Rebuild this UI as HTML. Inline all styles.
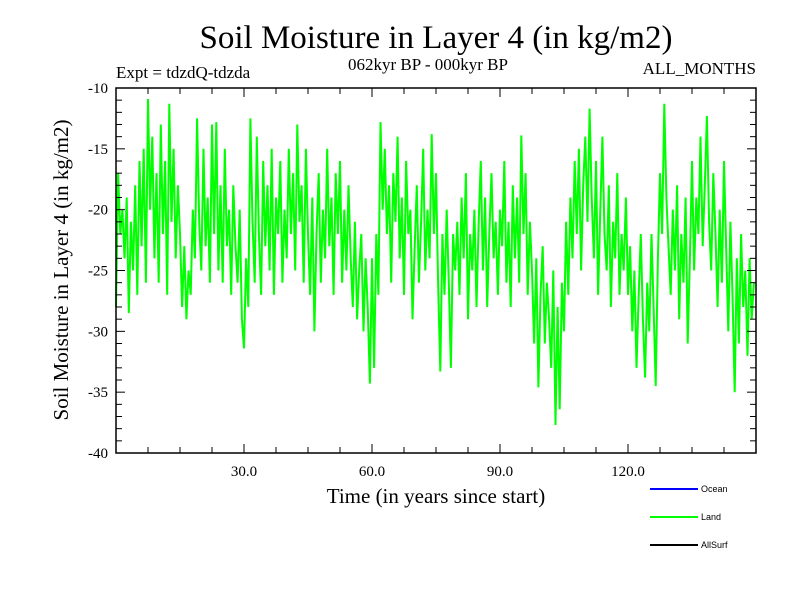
<!DOCTYPE html>
<html><head><meta charset="utf-8"><style>
body{margin:0;background:#fff}
svg text{font-family:"Liberation Serif",serif}
</style></head><body>
<svg id="chart" width="800" height="600" xmlns="http://www.w3.org/2000/svg">
<rect width="800" height="600" fill="#fff"/>
<text x="436" y="48" font-size="33" text-anchor="middle">Soil Moisture in Layer 4 (in kg/m2)</text>
<text x="116" y="78" font-size="17">Expt = tdzdQ-tdzda</text>
<text x="428" y="70" font-size="17" text-anchor="middle">062kyr BP - 000kyr BP</text>
<text x="756" y="74" font-size="17" text-anchor="end">ALL_MONTHS</text>
<g id="plot"></g>
<text x="436" y="503" font-size="21" text-anchor="middle">Time (in years since start)</text>
<text transform="translate(68,270) rotate(-90)" font-size="21" text-anchor="middle">Soil Moisture in Layer 4 (in kg/m2)</text>
<g font-family="Liberation Sans,sans-serif">
<line x1="650" y1="489" x2="698" y2="489" stroke="#0000ff" stroke-width="2"/>
<text x="701" y="492" font-size="9" style="font-family:'Liberation Sans',sans-serif">Ocean</text>
<line x1="650" y1="517" x2="698" y2="517" stroke="#00ff00" stroke-width="2"/>
<text x="701" y="520" font-size="9" style="font-family:'Liberation Sans',sans-serif">Land</text>
<line x1="650" y1="545" x2="698" y2="545" stroke="#000" stroke-width="2"/>
<text x="701" y="548" font-size="9" style="font-family:'Liberation Sans',sans-serif">AllSurf</text>
</g>
</svg>
<script>
const xTicks=[30,60,90,120];
const xTickLabels=["30.0","60.0","90.0","120.0"];
const yTicks=[-10,-15,-20,-25,-30,-35,-40];
const yTickLabels=["-10","-15","-20","-25","-30","-35","-40"];
const landValues=[
-28,-17,-22,-20,-24,-19,-28.5,-21,-25,-18,
-27,-16,-23,-15,-26,-10.9,-20,-14,-24,-17,
-26,-13,-22,-16,-27,-11.3,-21,-15,-24,-18,
-22,-28,-23,-29,-25,-27,-20,-24,-12.5,-21,
-25,-15,-23,-19,-26,-13,-22,-12.8,-25,-18,
-26,-15,-23,-20,-27,-18,-23,-26,-20,-29,
-31.4,-24,-28,-12.5,-21,-26,-14,-22,-27,-16,
-23,-18,-25,-15,-27,-19,-22,-16,-26,-20,
-24,-15,-22,-17,-25,-13,-21,-18,-26,-15,
-22,-27,-19,-30,-22,-17,-26,-20,-24,-15,
-23,-19,-27,-17,-22,-16,-26,-20,-25,-18,
-24,-28,-21,-29,-25,-22,-30,-24,-28,-34.3,
-24,-33,-22,-27,-12.8,-20,-15,-22,-18,-26,
-17,-21,-14,-24,-19,-27,-16,-22,-20,-29,
-23,-18,-26,-21,-15,-25,-20,-24,-13.8,-22,
-17,-26,-33.3,-22,-27,-20,-26,-33,-22,-25,
-21,-27,-19,-24,-17,-29,-22,-25,-20,-28,
-21,-16,-25,-19,-28,-22,-17,-24,-21,-27,
-20,-23,-16,-26,-21,-28,-18,-24,-19,-26,
-13.9,-22,-17,-27,-21,-25,-31,-24,-34.6,-27,
-23,-31,-26,-29,-33,-25,-37.7,-28,-36.4,-26,
-30,-21,-27,-19,-24,-16,-22,-15,-25,-18,
-14,-21,-11.7,-19,-24,-16,-27,-20,-14,-22,
-25,-18,-28,-21,-24,-17,-27,-22,-25,-19,
-27,-23,-30,-25,-33,-27,-22,-29,-33.8,-26,
-30,-22,-28,-34.5,-24,-17,-22,-11.3,-19,-23,
-27,-20,-25,-18,-29,-22,-26,-19,-31,-24,
-16,-25,-19,-22,-14,-23,-18,-12.3,-21,-25,
-17,-22,-28,-20,-26,-16,-23,-30,-21,-27,
-35,-24,-31,-22,-28,-25,-32,-24,-29,-26];
const L=116,R=756,T=88,B=453,xMax=150;
const xs=v=>L+(v/xMax)*(R-L);
const ys=v=>T+(-10-v)/30*(B-T);
const NS="http://www.w3.org/2000/svg";
const g=document.getElementById('plot');
function mk(tag,attrs){const e=document.createElementNS(NS,tag);for(const k in attrs)e.setAttribute(k,attrs[k]);g.appendChild(e);return e;}
// series
const pts=landValues.map((v,i)=>xs(i*xMax/landValues.length).toFixed(1)+','+ys(v).toFixed(1)).join(' ');
const pl=mk('polyline',{points:pts,fill:'none',stroke:'#00ff00','stroke-width':2});


// frame
const fr=mk('rect',{x:L,y:T,width:R-L,height:B-T,fill:'none',stroke:'#000','stroke-width':1.5});


// minor x ticks every 7.5 years
for(let t=7.5;t<xMax;t+=7.5){
 const major=xTicks.includes(t);const len=major?9:6;
 const a=mk('line',{x1:xs(t),x2:xs(t),y1:B,y2:B-len,stroke:'#000','stroke-width':1});
 
 
 const b=mk('line',{x1:xs(t),x2:xs(t),y1:T,y2:T+len,stroke:'#000','stroke-width':1});
 
 
}
xTicks.forEach((t,i)=>{
 const tx=mk('text',{x:xs(t),y:476,'font-size':15,'text-anchor':'middle'});
 tx.textContent=xTickLabels[i];
 
 
});
for(let v=-11;v>-40;v--){
 const major=v%5===0;const len=major?9:6;
 const a=mk('line',{x1:L,x2:L+len,y1:ys(v),y2:ys(v),stroke:'#000','stroke-width':1});
 
 
 const b=mk('line',{x1:R,x2:R-len,y1:ys(v),y2:ys(v),stroke:'#000','stroke-width':1});
 
 
}
yTicks.forEach((v,i)=>{
 const tx=mk('text',{x:108,y:ys(v)+5,'font-size':15,'text-anchor':'end'});
 tx.textContent=yTickLabels[i];
 
 
});
</script>
</body></html>
